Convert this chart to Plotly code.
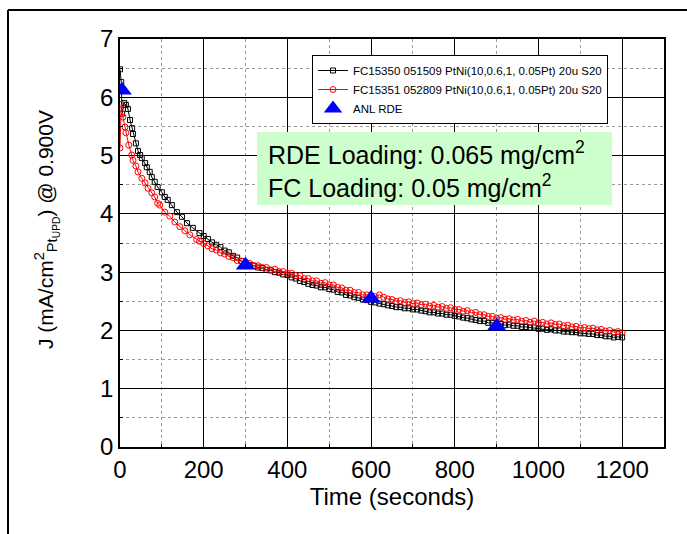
import plotly.graph_objects as go

# ---- data ----
black_t = [0, 3, 5, 10, 14, 19, 24, 29, 31, 38, 43, 48, 52, 60, 64, 71, 76, 83, 90, 100,
           107, 114, 124, 136, 148, 160, 174, 190, 200,
           210, 220, 230, 240, 250, 260, 270, 280, 290, 300,
           310, 320, 330, 340, 350, 360, 370, 380, 390, 400,
           410, 420, 430, 440, 450, 460, 470, 480, 490, 500,
           510, 520, 530, 540, 550, 560, 570, 580, 590, 600,
           610, 620, 630, 640, 650, 660, 670, 680, 690, 700,
           710, 720, 730, 740, 750, 760, 770, 780, 790, 800,
           810, 820, 830, 840, 850, 860, 870, 880, 890, 900,
           910, 920, 930, 940, 950, 960, 970, 980, 990, 1000,
           1010, 1020, 1030, 1040, 1050, 1060, 1070, 1080, 1090, 1100,
           1110, 1120, 1130, 1140, 1150, 1160, 1170, 1180, 1190, 1200]
black_j = [6.48, 6.26, 5.72, 5.90, 5.87, 5.80, 5.61, 5.47, 5.37, 5.21, 5.08, 5.01, 4.96, 4.87, 4.80, 4.72, 4.63, 4.55, 4.46, 4.37,
           4.29, 4.24, 4.15, 4.03, 3.95, 3.84, 3.76, 3.67, 3.62,
           3.57, 3.51, 3.47, 3.43, 3.37, 3.34, 3.28, 3.25, 3.19, 3.16,
           3.12, 3.11, 3.08, 3.07, 3.04, 3.03, 3.00, 2.99, 2.96, 2.95,
           2.91, 2.89, 2.85, 2.83, 2.80, 2.78, 2.77, 2.74, 2.74, 2.71,
           2.70, 2.66, 2.65, 2.61, 2.60, 2.57, 2.56, 2.53, 2.52, 2.49,
           2.48, 2.46, 2.45, 2.43, 2.42, 2.40, 2.40, 2.38, 2.38, 2.36,
           2.36, 2.34, 2.33, 2.31, 2.31, 2.29, 2.29, 2.27, 2.27, 2.25,
           2.24, 2.22, 2.21, 2.19, 2.18, 2.16, 2.16, 2.13, 2.13, 2.11,
           2.11, 2.09, 2.10, 2.08, 2.08, 2.06, 2.06, 2.05, 2.05, 2.03,
           2.03, 2.01, 2.02, 2.00, 2.00, 1.98, 1.98, 1.97, 1.97, 1.95,
           1.95, 1.94, 1.94, 1.92, 1.92, 1.90, 1.90, 1.88, 1.89, 1.88]

red_t = [0, 3, 7, 12, 14, 21, 28, 31, 38, 43, 52, 60, 67, 76, 83, 90, 95, 107, 119, 131,
         143, 155, 167, 183, 190, 200,
         210, 220, 230, 240, 250, 260, 270, 280, 290, 300,
         310, 320, 330, 340, 350, 360, 370, 380, 390, 400,
         410, 420, 430, 440, 450, 460, 470, 480, 490, 500,
         510, 520, 530, 540, 550, 560, 570, 580, 590, 600,
         610, 620, 630, 640, 650, 660, 670, 680, 690, 700,
         710, 720, 730, 740, 750, 760, 770, 780, 790, 800,
         810, 820, 830, 840, 850, 860, 870, 880, 890, 900,
         910, 920, 930, 940, 950, 960, 970, 980, 990, 1000,
         1010, 1020, 1030, 1040, 1050, 1060, 1070, 1080, 1090, 1100,
         1110, 1120, 1130, 1140, 1150, 1160, 1170, 1180, 1190, 1200]
red_j = [5.13, 5.88, 5.66, 5.49, 5.39, 5.18, 5.01, 4.92, 4.82, 4.72, 4.61, 4.53, 4.44, 4.36, 4.29, 4.18, 4.15, 4.03, 3.96, 3.86,
         3.78, 3.71, 3.64, 3.56, 3.53, 3.49,
         3.45, 3.40, 3.38, 3.33, 3.31, 3.27, 3.25, 3.20, 3.19, 3.15,
         3.15, 3.11, 3.11, 3.08, 3.08, 3.04, 3.05, 3.01, 3.01, 2.98,
         2.98, 2.94, 2.94, 2.89, 2.89, 2.85, 2.85, 2.81, 2.82, 2.78,
         2.78, 2.74, 2.73, 2.69, 2.69, 2.65, 2.65, 2.61, 2.61, 2.57,
         2.58, 2.61, 2.57, 2.54, 2.53, 2.50, 2.51, 2.48, 2.49, 2.46,
         2.47, 2.44, 2.45, 2.42, 2.43, 2.40, 2.41, 2.38, 2.39, 2.36,
         2.36, 2.33, 2.34, 2.30, 2.31, 2.27, 2.27, 2.24, 2.24, 2.21,
         2.22, 2.19, 2.20, 2.18, 2.19, 2.16, 2.17, 2.14, 2.16, 2.13,
         2.14, 2.11, 2.13, 2.10, 2.11, 2.08, 2.09, 2.06, 2.07, 2.04,
         2.05, 2.03, 2.04, 2.01, 2.02, 1.99, 2.00, 1.97, 1.98, 1.96]

rde_t = [5, 300, 600, 900]
rde_j = [6.12, 3.12, 2.55, 2.07]

name_black = "FC15350 051509 PtNi(10,0.6,1, 0.05Pt) 20u S20"
name_red = "FC15351 052809 PtNi(10,0.6,1, 0.05Pt) 20u S20"
name_rde = "ANL RDE"

x_ticks = [0, 200, 400, 600, 800, 1000, 1200]
y_ticks = [0, 1, 2, 3, 4, 5, 6, 7]

FONT = "Arial, Liberation Sans, sans-serif"

fig = go.Figure()
fig.add_trace(go.Scatter(
    x=black_t, y=black_j, name=name_black, mode="lines+markers",
    line=dict(color="black", width=1),
    marker=dict(symbol="square-open", size=5, color="black", line=dict(width=1, color="black")),
))
fig.add_trace(go.Scatter(
    x=red_t, y=red_j, name=name_red, mode="lines+markers",
    line=dict(color="red", width=1),
    marker=dict(symbol="circle-open", size=6, color="red", line=dict(width=1, color="red")),
))
fig.add_trace(go.Scatter(
    x=rde_t, y=rde_j, name=name_rde, mode="markers",
    marker=dict(symbol="triangle-up", size=17, color="#0000ff"),
))

# plot area in pixels: x 120..664, y 39..447
L, R, T, B = 120, 664, 39, 447
W, H = 687, 534
pw, ph = R - L, B - T
def px(x): return (x - L) / pw
def py(y): return (B - y) / ph

axis_common = dict(
    showline=True, linecolor="black", linewidth=1.5, mirror=True,
    ticks="inside", ticklen=5, tickcolor="black",
    showgrid=True, gridcolor="#000000", gridwidth=1,
    zeroline=False,
    tickfont=dict(family=FONT, size=24, color="black"),
)

fig.update_xaxes(
    range=[0, 1300], tickvals=x_ticks, ticktext=[str(v) for v in x_ticks],
    title=dict(text="Time (seconds)", font=dict(family=FONT, size=24, color="black"), standoff=2),
    minor=dict(dtick=100, tick0=0, showgrid=True, gridcolor="#999999", griddash="dot", gridwidth=1,
               ticks="inside", ticklen=3, tickcolor="black"),
    **axis_common,
)
fig.update_yaxes(
    range=[0, 7], tickvals=y_ticks, ticktext=[str(v) for v in y_ticks],
    minor=dict(dtick=0.5, tick0=0, showgrid=True, gridcolor="#999999", griddash="dot", gridwidth=1,
               ticks="inside", ticklen=3, tickcolor="black"),
    **axis_common,
)

fig.update_layout(
    width=W, height=H,
    margin=dict(l=L, r=W - R, t=T, b=H - B, pad=0),
    paper_bgcolor="white", plot_bgcolor="white",
    font=dict(family=FONT, color="black"),
    showlegend=True,
    legend=dict(
        x=px(312), y=py(55), xanchor="left", yanchor="top",
        bgcolor="white", bordercolor="black", borderwidth=1,
        font=dict(family=FONT, size=11.5, color="black"),
        itemwidth=30, tracegroupgap=0,
    ),
    shapes=[
        # green label box
        dict(type="rect", xref="paper", yref="paper",
             x0=px(257), x1=px(612), y0=py(205), y1=py(132),
             fillcolor="#ccffcc", line=dict(width=0), layer="above"),
        # outer frame (top & left)
        dict(type="line", xref="paper", yref="paper",
             x0=px(8), x1=px(700), y0=py(10), y1=py(10), line=dict(color="black", width=2)),
        dict(type="line", xref="paper", yref="paper",
             x0=px(8), x1=px(8), y0=py(10), y1=py(560), line=dict(color="black", width=2)),
    ],
    annotations=[
        dict(text="RDE Loading: 0.065 mg/cm<sup>2</sup>", xref="paper", yref="paper",
             x=px(266), y=py(153), xanchor="left", yanchor="middle", showarrow=False,
             font=dict(family=FONT, size=25, color="black")),
        dict(text="FC Loading: 0.05 mg/cm<sup>2</sup>", xref="paper", yref="paper",
             x=px(266), y=py(186), xanchor="left", yanchor="middle", showarrow=False,
             font=dict(family=FONT, size=25, color="black")),
        dict(text="J (mA/cm<sup>2</sup><sub>Pt<sub>UPD</sub></sub>) @ 0.900V", xref="paper", yref="paper",
             x=px(46), y=py(230), xanchor="center", yanchor="middle", showarrow=False, textangle=-90,
             font=dict(family=FONT, size=21, color="black")),
    ],
)

fig.write_html("out.html")
